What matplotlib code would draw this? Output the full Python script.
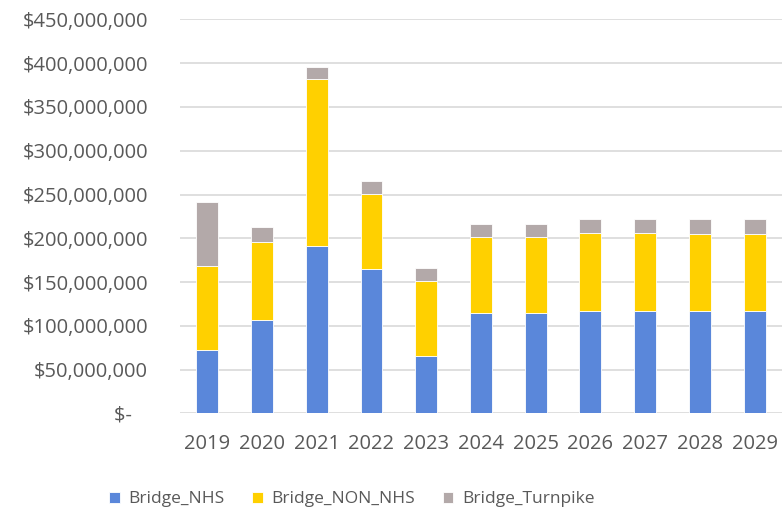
import matplotlib.pyplot as plt
import numpy as np
from matplotlib.ticker import FuncFormatter

years = ["2019", "2020", "2021", "2022", "2023", "2024", "2025", "2026", "2027", "2028", "2029"]
# values in millions of dollars
bridge_nhs = [72.6, 106.9, 191.1, 165.2, 65.4, 114.9, 114.9, 117.2, 117.2, 117.2, 117.2]
bridge_non_nhs = [95.3, 88.7, 190.3, 85.3, 85.7, 86.1, 86.1, 88.7, 88.7, 88.0, 88.0]
bridge_turnpike = [73.8, 17.5, 14.4, 15.1, 14.8, 15.2, 15.2, 15.6, 15.6, 16.3, 16.3]

plt.rcParams['font.family'] = ['Open Sans', 'DejaVu Sans']
txt = '#595959'

fig = plt.figure(figsize=(7.82, 5.11), dpi=100)
ax = fig.add_axes([0.230, 0.191, 0.770, 0.771])

x = np.arange(len(years))
nhs = np.array(bridge_nhs) * 1e6
non = np.array(bridge_non_nhs) * 1e6
turn = np.array(bridge_turnpike) * 1e6

w = 0.4
ax.bar(x, nhs, w, color='#5A87DA', edgecolor='white', linewidth=0.6, label='Bridge_NHS', zorder=3)
ax.bar(x, non, w, bottom=nhs, color='#FFD000', edgecolor='white', linewidth=0.6, label='Bridge_NON_NHS', zorder=3)
ax.bar(x, turn, w, bottom=nhs + non, color='#B3A9A9', edgecolor='white', linewidth=0.6, label='Bridge_Turnpike', zorder=3)

ax.set_xlim(-0.5, len(years) - 0.5)
ax.set_ylim(0, 450e6)
ax.set_yticks(np.arange(0, 450e6 + 1, 50e6))
ax.yaxis.set_major_formatter(FuncFormatter(lambda v, p: '$-   ' if v == 0 else '${:,.0f}'.format(v)))
ax.set_xticks(x)
ax.set_xticklabels(years)

ax.grid(axis='y', color='#d9d9d9', linewidth=1.2, zorder=0)
for s in ax.spines.values():
    s.set_visible(False)
ax.tick_params(length=0, labelsize=14.5, colors=txt)
ax.tick_params(axis='y', pad=23)
ax.tick_params(axis='x', pad=15)

fig.legend(loc='center', bbox_to_anchor=(0.45, 0.023), ncol=3, frameon=False,
           fontsize=12.5, labelcolor=txt, handlelength=0.6, handleheight=0.6,
           columnspacing=1.6, handletextpad=0.5)

plt.savefig('out.png', dpi=100)
